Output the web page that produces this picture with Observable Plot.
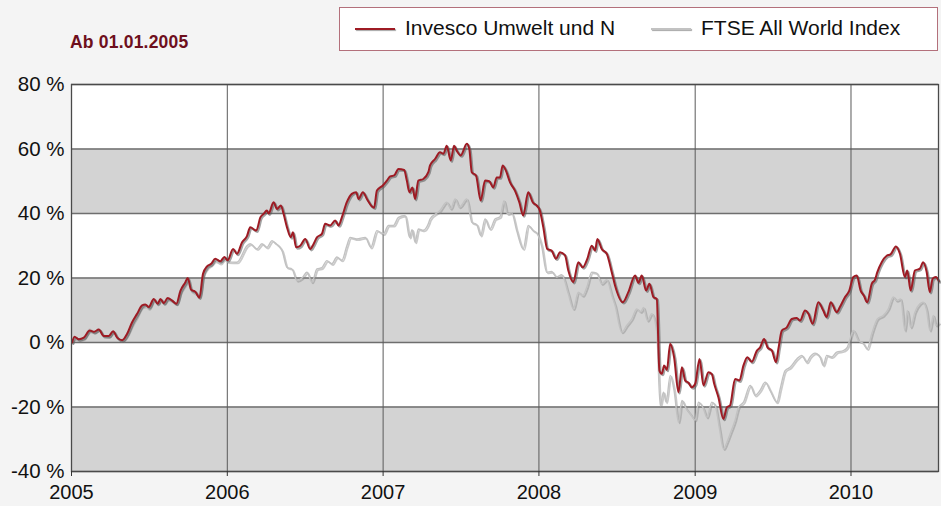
<!DOCTYPE html>
<html>
<head>
<meta charset="utf-8">
<script src="https://cdn.jsdelivr.net/npm/d3@7"></script>
<script src="https://cdn.jsdelivr.net/npm/@observablehq/plot@0.6"></script>
<style>
  html, body { margin: 0; padding: 0; background: #f4f4f4; }
  #wrap { position: relative; width: 941px; height: 506px; font-family: "Liberation Sans", Arial, sans-serif; }
  #header { position: relative; width: 941px; height: 62px; }
  #title { position: absolute; left: 70px; top: 32px; font-size: 17.5px; font-weight: bold; color: #6e0f1c; letter-spacing: 0.2px; }
  #legend { position: absolute; left: 339px; top: 7px; width: 597px; height: 42px; background: #fff; border: 1px solid #b3707b; }
  .item { position: absolute; top: 8px; font-size: 21px; color: #111; white-space: nowrap; }
  .swatch { position: absolute; top: 20px; width: 40px; height: 2px; }
  #chart svg { display: block; }
</style>
</head>
<body>
<div id="wrap">
  <div id="header">
    <div id="title"></div>
    <div id="legend"></div>
  </div>
  <div id="chart"></div>
</div>
<script>
const titleText = "Ab 01.01.2005";
const seriesNames = ["Invesco Umwelt und N", "FTSE All World Index"];
const seriesColors = ["#9e1b24", "#c2c2c2"];
const yTicks = [-40, -20, 0, 20, 40, 60, 80];
const bandsLo = [-40, 0, 40];
const bandsHi = [-20, 20, 60];
const xStart = "2005-01-01";
const xEnd = "2010-07-25";

// Invesco Umwelt und N (decimal year, % change)
const investT = [2005.004,2005.019,2005.047,2005.079,2005.117,2005.143,2005.175,2005.207,2005.239,2005.267,2005.293,2005.325,2005.357,2005.389,2005.421,2005.453,2005.474,2005.496,2005.528,2005.553,2005.571,2005.592,2005.617,2005.646,2005.673,2005.699,2005.731,2005.746,2005.767,2005.795,2005.821,2005.844,2005.870,2005.896,2005.923,2005.955,2005.981,2006.002,2006.037,2006.062,2006.094,2006.126,
2006.147,2006.186,2006.212,2006.233,2006.254,2006.265,2006.297,2006.319,2006.344,2006.361,2006.383,2006.408,2006.421,2006.442,2006.468,2006.500,2006.532,2006.553,2006.575,2006.607,2006.628,2006.660,2006.692,2006.714,2006.735,2006.767,2006.799,2006.827,2006.842,2006.870,2006.896,2006.928,2006.942,2006.960,2006.998,
2007.024,2007.045,2007.071,2007.098,2007.135,2007.152,2007.169,2007.188,2007.205,2007.226,2007.258,2007.290,2007.301,2007.333,2007.365,2007.387,2007.408,2007.434,2007.455,2007.472,2007.498,2007.537,2007.553,2007.569,2007.596,2007.626,2007.654,2007.681,2007.707,2007.729,2007.750,2007.767,2007.788,2007.814,2007.846,2007.874,2007.899,2007.931,2007.960,2007.985,
2008.006,2008.028,2008.053,2008.081,2008.109,2008.135,2008.167,2008.188,2008.220,2008.252,2008.280,2008.310,2008.338,2008.359,2008.374,2008.402,2008.434,2008.466,2008.487,2008.537,2008.572,2008.615,2008.637,2008.658,2008.686,2008.707,2008.733,2008.754,2008.771,2008.787,2008.801,2008.819,2008.840,2008.865,2008.893,2008.915,2008.936,2008.957,2008.979,
2009.000,2009.028,2009.053,2009.085,2009.107,2009.122,2009.149,2009.181,2009.203,2009.224,2009.256,2009.284,2009.310,2009.335,2009.363,2009.396,2009.417,2009.442,2009.464,2009.492,2009.519,2009.534,2009.556,2009.588,2009.620,2009.652,2009.673,2009.705,2009.726,2009.754,2009.790,2009.822,2009.844,2009.870,2009.908,2009.929,2009.962,2009.989,
2010.015,2010.037,2010.062,2010.083,2010.104,2010.133,2010.154,2010.169,2010.197,2010.229,2010.254,2010.288,2010.314,2010.346,2010.361,2010.383,2010.410,2010.442,2010.463,2010.485,2010.506,2010.524,2010.545,2010.564];
const investV = [0,1.8,1.0,1.5,3.7,3.3,4.0,2.0,2.0,3.5,1.5,0.7,2.7,6.3,8.9,11.5,11.8,11.0,13.5,12.0,13.5,12.2,13.8,13.0,12.0,16.0,18.7,20.0,16.4,15.7,13.9,21.3,23.6,24.4,26.0,25.2,26.5,25.5,29.0,27.5,31.0,33.0,
35.7,34.7,38.8,39.9,40.9,40.0,43.5,41.4,42.5,39.9,35.7,32.6,34.2,29.5,30.0,32.1,29.0,30.5,32.6,33.7,36.8,36.3,37.8,36.3,38.8,43.5,46.1,46.6,44.5,46.6,44.5,42.2,41.8,47.1,48.7,
50.2,51.5,51.8,53.8,53.5,50.2,46.6,48.1,44.5,50.2,50.7,52.8,54.9,56.9,59.0,58.5,61.0,56.4,61.0,59.5,58.0,61.6,60.0,52.8,51.8,44.0,50.2,50.0,48.1,51.2,51.2,54.9,53.3,49.7,47.1,43.5,39.4,46.6,43.5,42.5,
40.9,35.7,29.0,28.5,26.0,28.0,27.0,22.3,18.7,24.9,23.3,26.0,30.0,28.5,32.1,29.0,27.5,21.8,17.7,12.5,15.6,20.8,18.5,20.8,16.1,18.2,14.1,13.5,-8.7,-9.7,-7.1,-8.5,-0.4,-4.6,-15.4,-7.7,-11.8,-12.5,-13.9,
-12.8,-5.1,-13.3,-9.2,-9.8,-12.8,-17.0,-23.7,-20.1,-19.5,-11.3,-11.8,-7.1,-4.6,-6.0,-2.5,-1.5,1.1,-1.5,-2.5,-6.1,-2.0,3.7,4.7,7.3,7.6,6.8,9.9,9.0,5.8,12.5,9.9,7.9,12.5,9.4,11.0,14.1,16.1,
20.3,20.8,16.1,14.5,12.5,18.2,19.5,21.8,24.9,26.9,27.3,29.8,27.5,20.3,22.3,16.1,22.3,22.9,24.9,22.0,15.6,19.8,20.3,19.0];

// FTSE All World Index (decimal year, % change)
const ftseT = [2005.004,2005.019,2005.047,2005.079,2005.117,2005.143,2005.175,2005.207,2005.239,2005.267,2005.293,2005.325,2005.357,2005.389,2005.421,2005.453,2005.474,2005.496,2005.528,2005.553,2005.571,2005.592,2005.617,2005.646,2005.673,2005.699,2005.731,2005.746,2005.767,2005.795,2005.821,2005.844,2005.870,2005.896,2005.923,2005.955,2005.981,2006.002,2006.062,2006.126,
2006.147,2006.190,2006.222,2006.254,2006.287,2006.308,2006.329,2006.351,2006.383,2006.415,2006.447,2006.479,2006.511,2006.543,2006.575,2006.607,2006.639,2006.671,2006.703,2006.735,2006.767,2006.788,2006.831,2006.885,2006.921,2006.960,
2007.002,2007.034,2007.066,2007.098,2007.141,2007.169,2007.186,2007.205,2007.226,2007.258,2007.290,2007.301,2007.365,2007.408,2007.434,2007.462,2007.489,2007.537,2007.569,2007.601,2007.626,2007.654,2007.686,2007.718,2007.750,2007.776,2007.797,2007.825,2007.857,2007.899,2007.931,2007.963,2007.985,
2008.017,2008.049,2008.081,2008.113,2008.146,2008.188,2008.220,2008.252,2008.280,2008.306,2008.338,2008.370,2008.402,2008.434,2008.466,2008.487,2008.530,2008.562,2008.594,2008.626,2008.652,2008.669,2008.694,2008.722,2008.754,2008.776,2008.797,2008.814,2008.840,2008.865,2008.893,2008.915,2008.942,2008.968,
2009.000,2009.021,2009.053,2009.075,2009.107,2009.128,2009.156,2009.181,2009.203,2009.229,2009.256,2009.278,2009.310,2009.353,2009.385,2009.417,2009.449,2009.481,2009.524,2009.545,2009.577,2009.609,2009.652,2009.684,2009.716,2009.737,2009.769,2009.801,2009.822,2009.844,2009.876,2009.908,2009.951,2009.976,2009.994,
2010.015,2010.047,2010.079,2010.104,2010.133,2010.169,2010.207,2010.239,2010.271,2010.293,2010.319,2010.346,2010.361,2010.383,2010.410,2010.442,2010.463,2010.485,2010.506,2010.528,2010.545,2010.564];
const ftseV = [0,1.2,0.8,1.2,4.2,3.0,4.2,2.2,1.8,3.2,1.5,0.5,2.2,5.5,8.2,11.0,11.3,10.5,13.0,12.2,13.2,12.0,13.3,12.8,12.0,15.5,18.0,19.2,16.0,15.2,14.2,20.5,23.0,24.0,25.2,24.5,25.8,25.0,24.9,30.0,
30.6,29.0,30.6,29.5,31.6,30.8,30.0,28.5,23.3,22.8,19.2,20.0,21.8,18.7,22.8,23.2,25.4,24.4,26.5,25.5,30.0,32.6,32.1,32.6,29.5,34.7,
33.7,36.3,36.3,38.8,39.4,32.6,35.0,31.1,35.2,34.8,36.8,38.3,40.9,43.5,41.5,44.5,42.0,44.5,37.3,36.5,33.2,38.3,35.2,38.3,39.0,44.0,39.9,40.2,34.7,29.0,36.3,34.7,34.0,
30.0,21.8,22.0,20.3,21.0,15.1,10.4,15.6,14.5,17.1,21.8,21.5,18.2,19.5,14.6,11.5,3.2,5.3,7.3,10.4,9.5,10.9,6.8,8.9,3.2,-19.6,-15.4,-18.5,-10.2,-14.9,-24.7,-18.0,-20.5,-22.1,
-24.1,-18.5,-20.5,-23.2,-18.5,-19.5,-26.8,-33.0,-31.0,-27.7,-24.1,-20.1,-18.5,-13.3,-16.4,-14.8,-12.3,-14.9,-18.5,-14.5,-8.7,-7.7,-5.1,-4.0,-6.1,-4.5,-3.3,-4.5,-7.1,-4.0,-4.5,-3.0,-2.5,-1.5,1.1,
3.7,0.7,-0.3,-2.0,2.7,7.3,8.4,10.4,14.1,13.0,13.5,3.7,9.9,4.7,9.4,12.0,12.5,10.0,3.7,8.4,5.3,6.0];

const toDate = t => {
  const y = Math.floor(t);
  const a = Date.UTC(y, 0, 1), b = Date.UTC(y + 1, 0, 1);
  return new Date(a + (t - y) * (b - a));
};
const invest = investT.map((t, i) => ({date: toDate(t), value: investV[i]}));
const ftse = ftseT.map((t, i) => ({date: toDate(t), value: ftseV[i]}));
const d0 = new Date(xStart), d1 = new Date(xEnd);
const bands = bandsLo.map((lo, i) => ({lo, hi: bandsHi[i]}));
const years = d3.utcYear.range(d0, d1);

document.getElementById("title").textContent = titleText;
const legend = document.getElementById("legend");
const legendX = [15, 311];
seriesNames.forEach((name, i) => {
  const sw = document.createElement("div");
  sw.className = "swatch";
  sw.style.left = legendX[i] + "px";
  sw.style.background = seriesColors[i];
  sw.style.boxShadow = "1px 1px 1px rgba(0,0,0,0.35)";
  legend.appendChild(sw);
  const it = document.createElement("div");
  it.className = "item";
  it.style.left = (legendX[i] + 50) + "px";
  it.textContent = name;
  legend.appendChild(it);
});

const curve = "monotone-x";
const chart = Plot.plot({
  width: 941,
  height: 444,
  marginTop: 22,
  marginBottom: 35,
  marginLeft: 71,
  marginRight: 3,
  style: {background: "transparent", fontFamily: "'Liberation Sans', Arial, sans-serif", fontSize: "20px", color: "#111", overflow: "visible"},
  x: {type: "utc", domain: [d0, d1], label: null},
  y: {domain: [-40, 80], label: null},
  marks: [
    Plot.frame({fill: "white"}),
    Plot.rect(bands, {x1: () => d0, x2: () => d1, y1: "lo", y2: "hi", fill: "#d3d3d3"}),
    Plot.ruleY(yTicks, {stroke: "#6e6e6e", strokeWidth: 1.5}),
    Plot.ruleX(years, {stroke: "#5a5a5a", strokeWidth: 1}),
    Plot.line(ftse, {x: "date", y: "value", stroke: "#8a8a8a", strokeOpacity: 0.45, strokeWidth: 1.8, dx: 1.2, dy: 1.2, curve}),
    Plot.line(ftse, {x: "date", y: "value", stroke: seriesColors[1], strokeWidth: 1.4, curve}),
    Plot.line(invest, {x: "date", y: "value", stroke: "#555", strokeOpacity: 0.55, strokeWidth: 2.4, dx: 1.2, dy: 1.2, curve}),
    Plot.line(invest, {x: "date", y: "value", stroke: seriesColors[0], strokeWidth: 2, curve}),
    Plot.frame({stroke: "#4a4a4a", strokeWidth: 1.3}),
    Plot.axisX({ticks: years, tickFormat: "%Y", tickSize: 5, tickPadding: 8, stroke: "#333", fontSize: 20}),
    Plot.axisY({ticks: yTicks, tickFormat: d => d + " %", tickSize: 0, tickPadding: 7, fontSize: 20.5})
  ]
});
document.getElementById("chart").appendChild(chart);
</script>
</body>
</html>
